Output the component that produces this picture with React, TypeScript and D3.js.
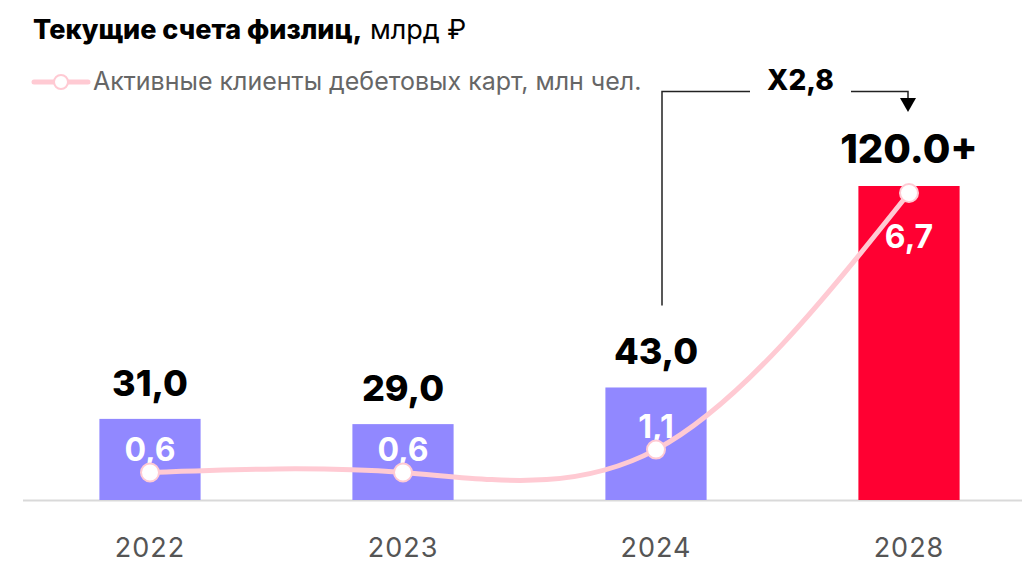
import React from "react";
import * as d3 from "d3";

const years = ["2022", "2023", "2024", "2028"];
const accounts = [31.0, 29.0, 43.0, 120.0];
const accountLabels = ["31,0", "29,0", "43,0", "120.0+"];
const clients = [0.6, 0.6, 1.1, 6.7];
const clientLabels = ["0,6", "0,6", "1,1", "6,7"];
const barColors = ["#9188FF", "#9188FF", "#9188FF", "#FF0032"];
const growthLabel = "X2,8";
const titleBold = "Текущие счета физлиц,";
const titleRest = " млрд ₽";
const legendLabel = "Активные клиенты дебетовых карт, млн чел.";

const W = 1022;
const H = 563;
const BASE = 500;
const FONT = "Inter, 'Noto Sans', sans-serif";

export default function App() {
  const x = d3.scaleBand<string>().domain(years).range([23.5, 1035.5]).paddingInner(0.6).paddingOuter(0.3);
  const y = d3.scaleLinear().domain([0, 120]).range([BASE, 186]);
  const yl = d3.scaleLinear().domain([0, 6.7]).range([BASE, 193]);
  const cx = (yr: string) => (x(yr) as number) + x.bandwidth() / 2;

  const pts: [number, number][] = years.map((yr, i) => [cx(yr), yl(clients[i])]);
  const line = d3.line().curve(d3.curveNatural)(pts) as string;

  const xa = cx("2024") + 6;
  const xb = cx("2028") - 1;
  const ay = 91.5;

  return (
    <svg width={W} height={H} style={{ position: "absolute", left: 0, top: 0, fontFamily: FONT }}>
      <rect width={W} height={H} fill="#fff" />
      <text x={33} y={39} fontSize={27} fill="#000">
        <tspan fontWeight={800}>{titleBold}</tspan>
        <tspan fontWeight={400}>{titleRest}</tspan>
      </text>
      <line x1={34} x2={88} y1={82} y2={82} stroke="#FFCAD3" strokeWidth={5} strokeLinecap="round" />
      <circle cx={61} cy={82} r={7} fill="#fff" stroke="#FFCAD3" strokeWidth={2} />
      <text x={93} y={90} fontSize={25} fill="#666">{legendLabel}</text>

      <line x1={23} x2={1022} y1={BASE + 0.5} y2={BASE + 0.5} stroke="#d9d9d9" strokeWidth={2} />
      {years.map((yr, i) => (
        <rect key={yr} x={x(yr)} y={y(accounts[i])} width={x.bandwidth()} height={BASE - y(accounts[i])} fill={barColors[i]} />
      ))}
      {years.map((yr, i) => (
        <text key={"v" + yr} x={cx(yr)} y={y(accounts[i]) - 23} textAnchor="middle" fontWeight={800}
          fontSize={i === 3 ? 40 : 36} fill="#000">{accountLabels[i]}</text>
      ))}
      {years.map((yr, i) => (
        <text key={"c" + yr} x={cx(yr)} y={i === 3 ? yl(clients[i]) + 55 : yl(clients[i]) - 12}
          textAnchor="middle" fontWeight={700} fontSize={32} fill="#fff">{clientLabels[i]}</text>
      ))}
      <path d={line} fill="none" stroke="#FFCAD3" strokeWidth={5} strokeLinecap="round" />
      {pts.map((p, i) => (
        <circle key={"p" + i} cx={p[0]} cy={p[1]} r={9} fill="#fff" stroke="#FFCAD3" strokeWidth={2} />
      ))}
      {years.map((yr) => (
        <text key={"y" + yr} x={cx(yr)} y={557} textAnchor="middle" fontSize={27} letterSpacing={1} fill="#555">{yr}</text>
      ))}

      <path d={`M${xa},${y(accounts[2]) - 82} V${ay} H750`} fill="none" stroke="#222" strokeWidth={1.5} />
      <path d={`M851,${ay} H${xb} V100`} fill="none" stroke="#222" strokeWidth={1.5} />
      <path d={`M${xb - 8},98 L${xb + 8},98 L${xb},112 Z`} fill="#000" />
      <text x={(750 + 851) / 2} y={90} textAnchor="middle" fontWeight={800} fontSize={28} fill="#000">{growthLabel}</text>
    </svg>
  );
}
